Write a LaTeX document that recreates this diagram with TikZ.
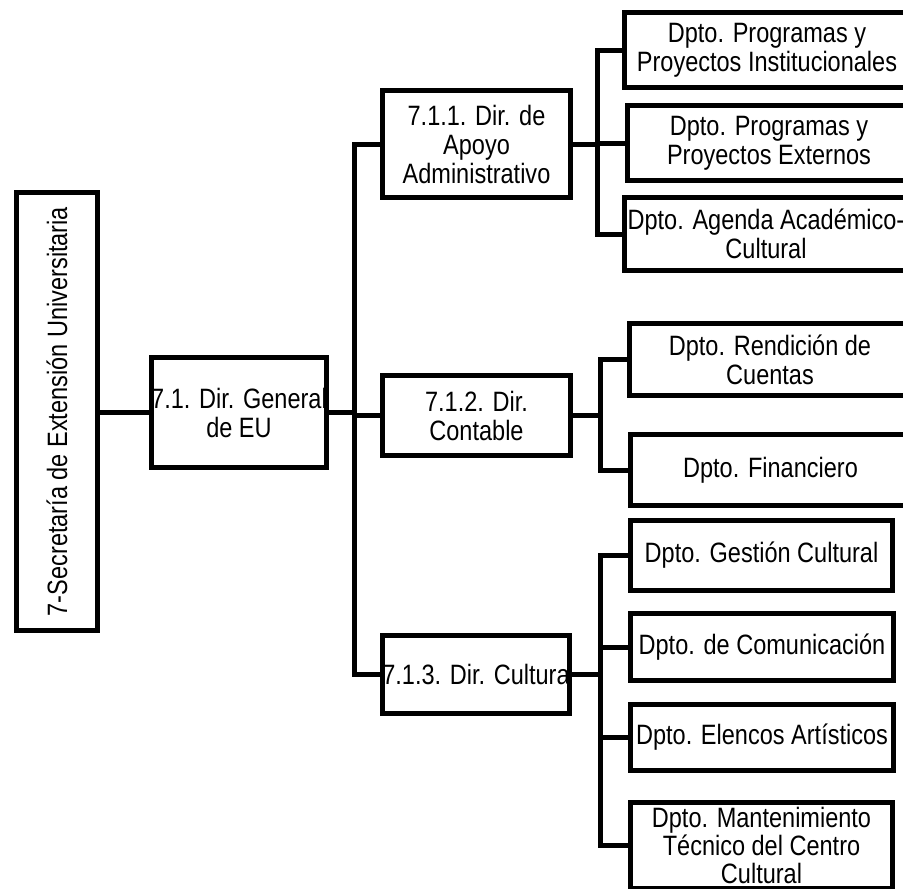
\documentclass[tikz,border=0pt]{standalone}
\usepackage{fontspec}
\setmainfont[FakeStretch=0.84]{Liberation Sans}
\usepackage{tikz}

\begin{document}
\begin{tikzpicture}[x=1pt, y=-1pt,
    box/.style={draw, line width=5pt, align=center, inner sep=0pt, font=\fontsize{28}{29}\selectfont},
    link/.style={line width=5pt}]

    % Fix the frame
    \useasboundingbox (0,0) rectangle (903,889);
    \clip (0,0) rectangle (903,889);

    % Draw the secretary and the general direction
    \node[box, minimum width=81, minimum height=438] (sec) at (57,411.5) {\rotatebox{90}{7-Secretaría de Extensión Universitaria}};
    \node[box, minimum width=173, minimum height=110] (dg) at (239,412.5) {7.1. Dir. General\\de EU};

    % Draw the directions
    \node[box, minimum width=188, minimum height=107] (apoyo) at (476.5,144) {7.1.1. Dir. de\\Apoyo\\Administrativo};
    \node[box, minimum width=188, minimum height=80] (contable) at (476.5,415.5) {7.1.2. Dir.\\Contable};
    \node[box, minimum width=187, minimum height=78] (cultura) at (476,674.5) {7.1.3. Dir. Cultura};

    % Draw the departments
    \node[box, minimum width=285, minimum height=75] (inst) at (767,50) {Dpto. Programas y\\Proyectos Institucionales};
    \node[box, minimum width=283, minimum height=75] (ext) at (769,143) {Dpto. Programas y\\Proyectos Externos};
    \node[box, minimum width=283, minimum height=73] (agenda) at (766,234) {Dpto. Agenda Académico-\\Cultural};
    \node[box, minimum width=281, minimum height=72] (rend) at (770,359.5) {Dpto. Rendición de\\Cuentas};
    \node[box, minimum width=280, minimum height=71] (fin) at (770.5,470) {Dpto. Financiero};
    \node[box, minimum width=262, minimum height=70] (gest) at (761.5,555.5) {Dpto. Gestión Cultural};
    \node[box, minimum width=263, minimum height=67] (com) at (762,647) {Dpto. de Comunicación};
    \node[box, minimum width=263, minimum height=66] (elen) at (762,737.5) {Dpto. Elencos Artísticos};
    \node[box, minimum width=262, minimum height=86, font=\fontsize{28}{28}\selectfont] (mant) at (761.5,845) {Dpto. Mantenimiento\\Técnico del Centro\\Cultural};

    % Bus points
    \coordinate (b0) at (354,412.5);
    \coordinate (b1) at (597,144);
    \coordinate (b2) at (600,415.5);
    \coordinate (b3) at (600,674.5);

    % Draw the links
    \draw[link] (sec.east |- dg.west) -- (dg.west);
    \draw[link] (dg.east) -- (b0) |- (apoyo.west);
    \draw[link] (b0) |- (contable.west);
    \draw[link] (b0) |- (cultura.west);

    \draw[link] (apoyo.east) -- (b1) |- (inst.west);
    \draw[link] (b1) |- (ext.west);
    \draw[link] (b1) |- (agenda.west);

    \draw[link] (contable.east) -- (b2) |- (rend.west);
    \draw[link] (b2) |- (fin.west);

    \draw[link] (cultura.east) -- (b3) |- (gest.west);
    \draw[link] (b3) |- (com.west);
    \draw[link] (b3) |- (elen.west);
    \draw[link] (b3) |- (mant.west);
\end{tikzpicture}
\end{document}
